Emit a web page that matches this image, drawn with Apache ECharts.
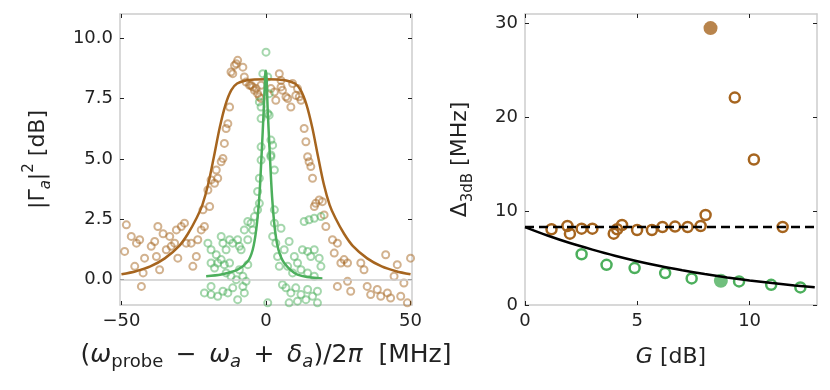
<!DOCTYPE html>
<html>
<head>
<meta charset="utf-8">
<script src="https://cdn.jsdelivr.net/npm/echarts@6/dist/echarts.min.js"></script>
<style>
  html, body { margin: 0; padding: 0; background: #fff; }
  #chart { width: 830px; height: 390px; }
</style>
</head>
<body>
<div id="chart"></div>
<script>
// left panel: measured gain vs detuning (x in MHz, y in dB)
const brownPoints = [
  [-48.3, 2.27], [-48.9, 1.17], [-46.6, 1.79], [-44.8, 1.51], [-43.7, 1.65], [-45.4, 0.55],
  [-43.1, -0.28], [-42.0, 0.89], [-42.5, 0.28], [-39.7, 1.38], [-38.5, 1.58], [-37.4, 2.2],
  [-37.9, 0.96], [-36.8, 0.41], [-35.6, 1.9], [-34.5, 1.24], [-33.3, 1.79], [-32.8, 1.38],
  [-31.6, 1.51], [-31.0, 2.06], [-30.5, 0.89], [-29.3, 2.2], [-28.2, 2.34], [-27.6, 1.51],
  [-25.9, 1.51], [-25.3, 0.55], [-24.1, 0.96], [-23.6, 1.65], [-21.8, 2.89], [-22.4, 2.06],
  [-21.3, 2.2], [-20.1, 3.71], [-19.5, 3.03], [-19.0, 4.13], [-17.8, 3.99], [-16.7, 4.2],
  [-17.2, 4.54], [-15.5, 4.88], [-14.9, 5.02], [-14.4, 5.64], [-13.8, 6.26], [-13.2, 6.46],
  [-12.6, 7.15], [-12.1, 8.6], [-11.5, 8.53], [-10.9, 8.87], [-10.3, 8.94], [-9.8, 9.08],
  [-8.0, 8.8], [-7.5, 8.39], [-6.9, 8.18], [-5.7, 8.05], [-5.2, 8.05], [-4.6, 7.98],
  [-4.0, 7.84], [-3.4, 7.91], [-2.9, 7.7], [-2.3, 7.57], [-1.7, 8.05], [-1.7, 7.5],
  [1.7, 7.91], [2.9, 7.77], [3.4, 7.43], [4.6, 8.53], [5.2, 8.25], [5.2, 7.98], [5.7, 7.84],
  [6.9, 7.57], [7.5, 7.5], [8.6, 7.15], [9.2, 8.12], [10.3, 7.63], [10.9, 7.91], [11.5, 7.57],
  [12.1, 7.43], [13.2, 6.26], [13.8, 5.71], [14.4, 5.09], [14.9, 4.88], [15.5, 4.68],
  [16.1, 4.2], [16.7, 3.03], [17.2, 3.16], [18.4, 3.3], [19.5, 3.23], [20.7, 2.2], [20.1, 2.68],
  [23.0, 1.65], [23.6, 1.1], [24.7, 1.51], [24.7, -0.28], [25.9, 0.69], [27.0, 0.83],
  [28.2, 0.69], [28.2, -0.07], [29.3, -0.48], [32.8, 0.69], [33.9, 0.41], [35.0, -0.28],
  [36.2, -0.62], [38.5, -0.41], [39.7, -0.69], [41.4, 1.03], [42.0, -0.55], [43.1, -0.76],
  [44.3, 0.14], [45.4, 0.62], [46.6, -0.69], [48.9, -0.96], [50.0, 0.89], [47.7, -0.14]
];
const greenPoints = [
  [0.0, 9.42], [-1.1, 8.53], [0.6, 8.39], [1.1, 7.7], [-2.3, 7.36], [-1.7, 7.15], [1.1, 6.81],
  [-1.7, 6.67], [0.6, 6.88], [1.7, 5.78], [2.3, 5.57], [-1.7, 5.5], [1.7, 5.16], [-1.7, 4.95],
  [1.7, 5.09], [-2.3, 4.2], [2.9, 4.54], [-2.9, 3.65], [-2.3, 3.16], [-2.9, 2.89], [-4.0, 2.61],
  [-5.2, 2.34], [-6.3, 2.41], [-4.6, 2.06], [-7.5, 2.06], [-6.3, 1.65], [2.9, 2.89], [2.9, 2.34],
  [5.2, 2.13], [2.3, 1.79], [3.4, 1.51], [8.0, 1.58], [6.3, 1.24], [4.0, 0.96], [4.6, 0.55],
  [-20.1, 1.51], [-19.0, 1.24], [-17.2, 1.03], [-15.5, 1.79], [-14.9, 1.51], [-13.8, 1.24],
  [-12.6, 1.65], [-11.5, 1.51], [-9.8, 1.65], [-9.2, 1.38], [-8.6, 1.24], [-19.0, 0.69],
  [-17.8, 0.48], [-16.7, 0.69], [-15.5, 0.83], [-14.4, 0.62], [-13.8, 0.28], [-12.6, 0.69],
  [-12.1, 0.14], [-10.3, 0.0], [-9.2, 0.41], [-8.0, 0.14], [-6.9, -0.07], [-6.3, 0.62],
  [-21.3, -0.55], [-19.0, -0.62], [-16.7, -0.69], [-14.9, -0.48], [-13.2, -0.55], [-11.5, -0.34],
  [-9.8, -0.83], [-7.5, -0.55], [-8.0, -0.28], [-19.0, -0.28], [13.2, 2.41], [14.9, 2.48],
  [16.7, 2.54], [19.0, 2.61], [12.6, 1.24], [14.4, 1.17], [15.5, 0.96], [16.7, 1.24], [18.4, 0.89],
  [9.8, 0.96], [10.9, 0.69], [7.5, 0.55], [9.2, 0.28], [12.1, 0.41], [14.4, 0.28], [16.7, 0.14],
  [19.0, 0.55], [5.7, -0.21], [6.9, -0.34], [8.6, -0.55], [10.3, -0.34], [12.1, -0.62],
  [14.4, -0.41], [16.1, -0.69], [17.8, -0.48], [8.0, -0.96], [10.9, -0.89], [13.8, -0.83],
  [17.8, -0.96], [0.6, -0.96]
];
// fitted curves
const brownFitX = [-50, -45, -40, -35, -30, -27, -24, -22, -20, -18, -16, -14, -12, -10, -7, -4, 0, 4, 7, 10, 12, 14, 16, 18, 20, 22, 24, 27, 30, 35, 40, 45, 50];
const brownFitY = [0.22, 0.35, 0.55, 0.88, 1.4, 1.9, 2.55, 3.1, 3.95, 5.1, 6.3, 7.25, 7.85, 8.12, 8.25, 8.29, 8.3, 8.29, 8.25, 8.12, 7.85, 7.25, 6.3, 5.1, 3.95, 3.1, 2.55, 1.9, 1.4, 0.88, 0.55, 0.35, 0.22];
const greenFitX = [-20.7, -15.5, -9.8, -6.3, -4.6, -3.4, -2.3, -1.5, -0.8, -0.2, 0, 0.6, 1.3, 2.1, 3.1, 4.3, 6.3, 10.9, 19.5];
const greenFitY = [0.14, 0.21, 0.41, 0.76, 1.24, 2.06, 3.44, 5.23, 7.0, 8.6, 8.65, 7.0, 5.23, 3.44, 2.06, 1.24, 0.69, 0.21, 0.05];

// right panel: 3 dB bandwidth vs gain G
const brownOpen = [
  [1.18, 8.07], [1.89, 8.42], [2.0, 7.6], [2.52, 8.13], [3.0, 8.13], [3.95, 7.6], [4.1, 8.07],
  [4.32, 8.52], [4.99, 7.99], [5.65, 7.99], [6.12, 8.31], [6.68, 8.35], [7.24, 8.31], [7.82, 8.42],
  [8.04, 9.59], [9.34, 22.1], [10.19, 15.5], [11.47, 8.31]
];
const brownFilled = [[8.26, 29.5]];
const greenOpen = [
  [2.52, 5.41], [3.63, 4.28], [4.88, 3.93], [6.24, 3.4], [7.42, 2.83], [9.53, 2.51],
  [10.96, 2.15], [12.26, 1.87]
];
const greenFilled = [[8.72, 2.58]];
const dashLevel = 8.3;
const bandCurveG = [0, 1, 2, 3, 4, 5, 6, 7, 8, 9, 10, 11, 12, 12.9];
const bandCurveD = [8.3, 7.4, 6.6, 5.9, 5.25, 4.67, 4.16, 3.71, 3.3, 2.94, 2.62, 2.34, 2.08, 1.88];

const leftTicksX = [-50, 0, 50];
const leftTicksY = [0, 2.5, 5, 7.5, 10];
const rightTicksX = [0, 5, 10];
const rightTicksY = [0, 10, 20, 30];

const brown = '#a6651f';
const green = '#4caf5c';
const frame = '#cccccc';
const font = 'DejaVu Sans';

const chart = echarts.init(document.getElementById('chart'));

function minus (v) {
  return v < 0 ? '\u2212' + Math.abs(v) : String(v);
}

// one axis of a panel, the mirrored copies only carry ticks
function axis (grid, pos, min, max, ticks, opts) {
  const showLabel = pos === 'bottom' || pos === 'left';
  return Object.assign({
    type: 'value',
    gridIndex: grid,
    position: pos,
    min: min,
    max: max,
    splitLine: { show: false },
    axisLine: { show: true, onZero: false, lineStyle: { color: frame, width: 1.5 } },
    axisTick: {
      show: true, inside: true, length: 4,
      customValues: ticks,
      lineStyle: { color: '#222', width: 1 }
    },
    axisLabel: {
      show: showLabel,
      customValues: ticks,
      color: '#222',
      fontFamily: font,
      fontSize: 18,
      margin: 7
    }
  }, opts || {})
}

function rich (size, subRatio) {
  const sub = Math.round(size * (subRatio || 0.68));
  return {
    p: { fontFamily: font, fontSize: size, lineHeight: 32, color: '#222' },
    w: { fontFamily: font, fontSize: size, lineHeight: 32, color: '#222', fontStyle: 'italic' },
    s: { fontFamily: font, fontSize: sub, lineHeight: 15, color: '#222', verticalAlign: 'bottom' },
    sa: { fontFamily: font, fontSize: sub, lineHeight: 15, color: '#222', verticalAlign: 'bottom', fontStyle: 'italic' },
    sup: { fontFamily: font, fontSize: sub, lineHeight: 15, color: '#222', verticalAlign: 'top' }
  }
}

// wider operator spacing, closer to the math typesetting of the original
const op = s => '{p|\u2002' + s + '\u2002}';
const xLeft = axis(0, 'bottom', -50.5, 50.5, leftTicksX, {
  name: '{p|(}{w|ω}{s|probe}' + op('\u2212') + '{w|ω}{sa|a}' + op('+') + '{w|δ}{sa|a}{p|)/2}{w|π}{p|  [MHz]}',
  nameLocation: 'middle',
  nameGap: 34,
  nameTextStyle: { rich: rich(25, 0.72) }
});
xLeft.axisLabel.formatter = minus;
const yLeft = axis(0, 'left', -1.05, 11, leftTicksY, {
  name: '{p||Γ}{sa|a}{p||}{sup|2}{p| [dB]}',
  nameLocation: 'middle',
  nameGap: 66,
  nameTextStyle: { rich: rich(22) }
});
yLeft.axisLabel.formatter = v => v.toFixed(1);
const xRight = axis(1, 'bottom', 0, 13, rightTicksX, {
  name: '{w|G}{p| [dB]}',
  nameLocation: 'middle',
  nameGap: 36,
  nameTextStyle: { rich: rich(22) }
});
const yRight = axis(1, 'left', 0, 31, rightTicksY, {
  name: '{p|Δ}{s|3dB}{p| [MHz]}',
  nameLocation: 'middle',
  nameGap: 49,
  nameTextStyle: { rich: rich(22) }
});

function openCircles (data, color, size, width, xi, yi, opacity) {
  return {
    type: 'scatter',
    xAxisIndex: xi,
    yAxisIndex: yi,
    data: data,
    symbol: 'circle',
    symbolSize: size,
    silent: true,
    itemStyle: { color: 'rgba(0,0,0,0)', borderColor: color, borderWidth: width, opacity: opacity }
  }
}

function curve (xs, ys, color, xi, yi, type) {
  return {
    type: 'line',
    xAxisIndex: xi,
    yAxisIndex: yi,
    data: xs.map((x, i) => [x, ys[i]]),
    smooth: type === 'solid' ? 0.3 : false,
    showSymbol: false,
    silent: true,
    lineStyle: { color: color, width: 2.5, type: type === 'solid' ? 'solid' : [9, 5] }
  }
}

chart.setOption({
  animation: false,
  grid: [
    { left: 120, top: 14, width: 292, height: 291, outerBoundsMode: 'none' },
    { left: 525, top: 14, width: 292, height: 291, outerBoundsMode: 'none' }
  ],
  xAxis: [
    xLeft,
    axis(0, 'top', -50.5, 50.5, leftTicksX),
    xRight,
    axis(1, 'top', 0, 13, rightTicksX)
  ],
  yAxis: [
    yLeft,
    axis(0, 'right', -1.05, 11, leftTicksY),
    yRight,
    axis(1, 'right', 0, 31, rightTicksY)
  ],
  series: [
    Object.assign(openCircles(brownPoints, brown, 7, 2, 0, 0, 0.5), {
      markLine: {
        silent: true,
        symbol: 'none',
        label: { show: false },
        lineStyle: { color: frame, width: 1.5, type: 'solid' },
        data: [{ yAxis: 0 }]
      }
    }),
    openCircles(greenPoints, green, 7, 2, 0, 0, 0.5),
    curve(brownFitX, brownFitY, brown, 0, 0, 'solid'),
    curve(greenFitX, greenFitY, green, 0, 0, 'solid'),
    curve([0, 13], [dashLevel, dashLevel], '#000', 2, 2, 'dashed'),
    curve(bandCurveG, bandCurveD, '#000', 2, 2, 'solid'),
    openCircles(brownOpen, brown, 10, 2.5, 2, 2, 1),
    openCircles(greenOpen, green, 10, 2.5, 2, 2, 1),
    {
      type: 'scatter', xAxisIndex: 2, yAxisIndex: 2, data: brownFilled,
      symbolSize: 14, silent: true, itemStyle: { color: brown }
    },
    {
      type: 'scatter', xAxisIndex: 2, yAxisIndex: 2, data: greenFilled,
      symbolSize: 14, silent: true, itemStyle: { color: green }
    }
  ]
});
</script>
</body>
</html>
